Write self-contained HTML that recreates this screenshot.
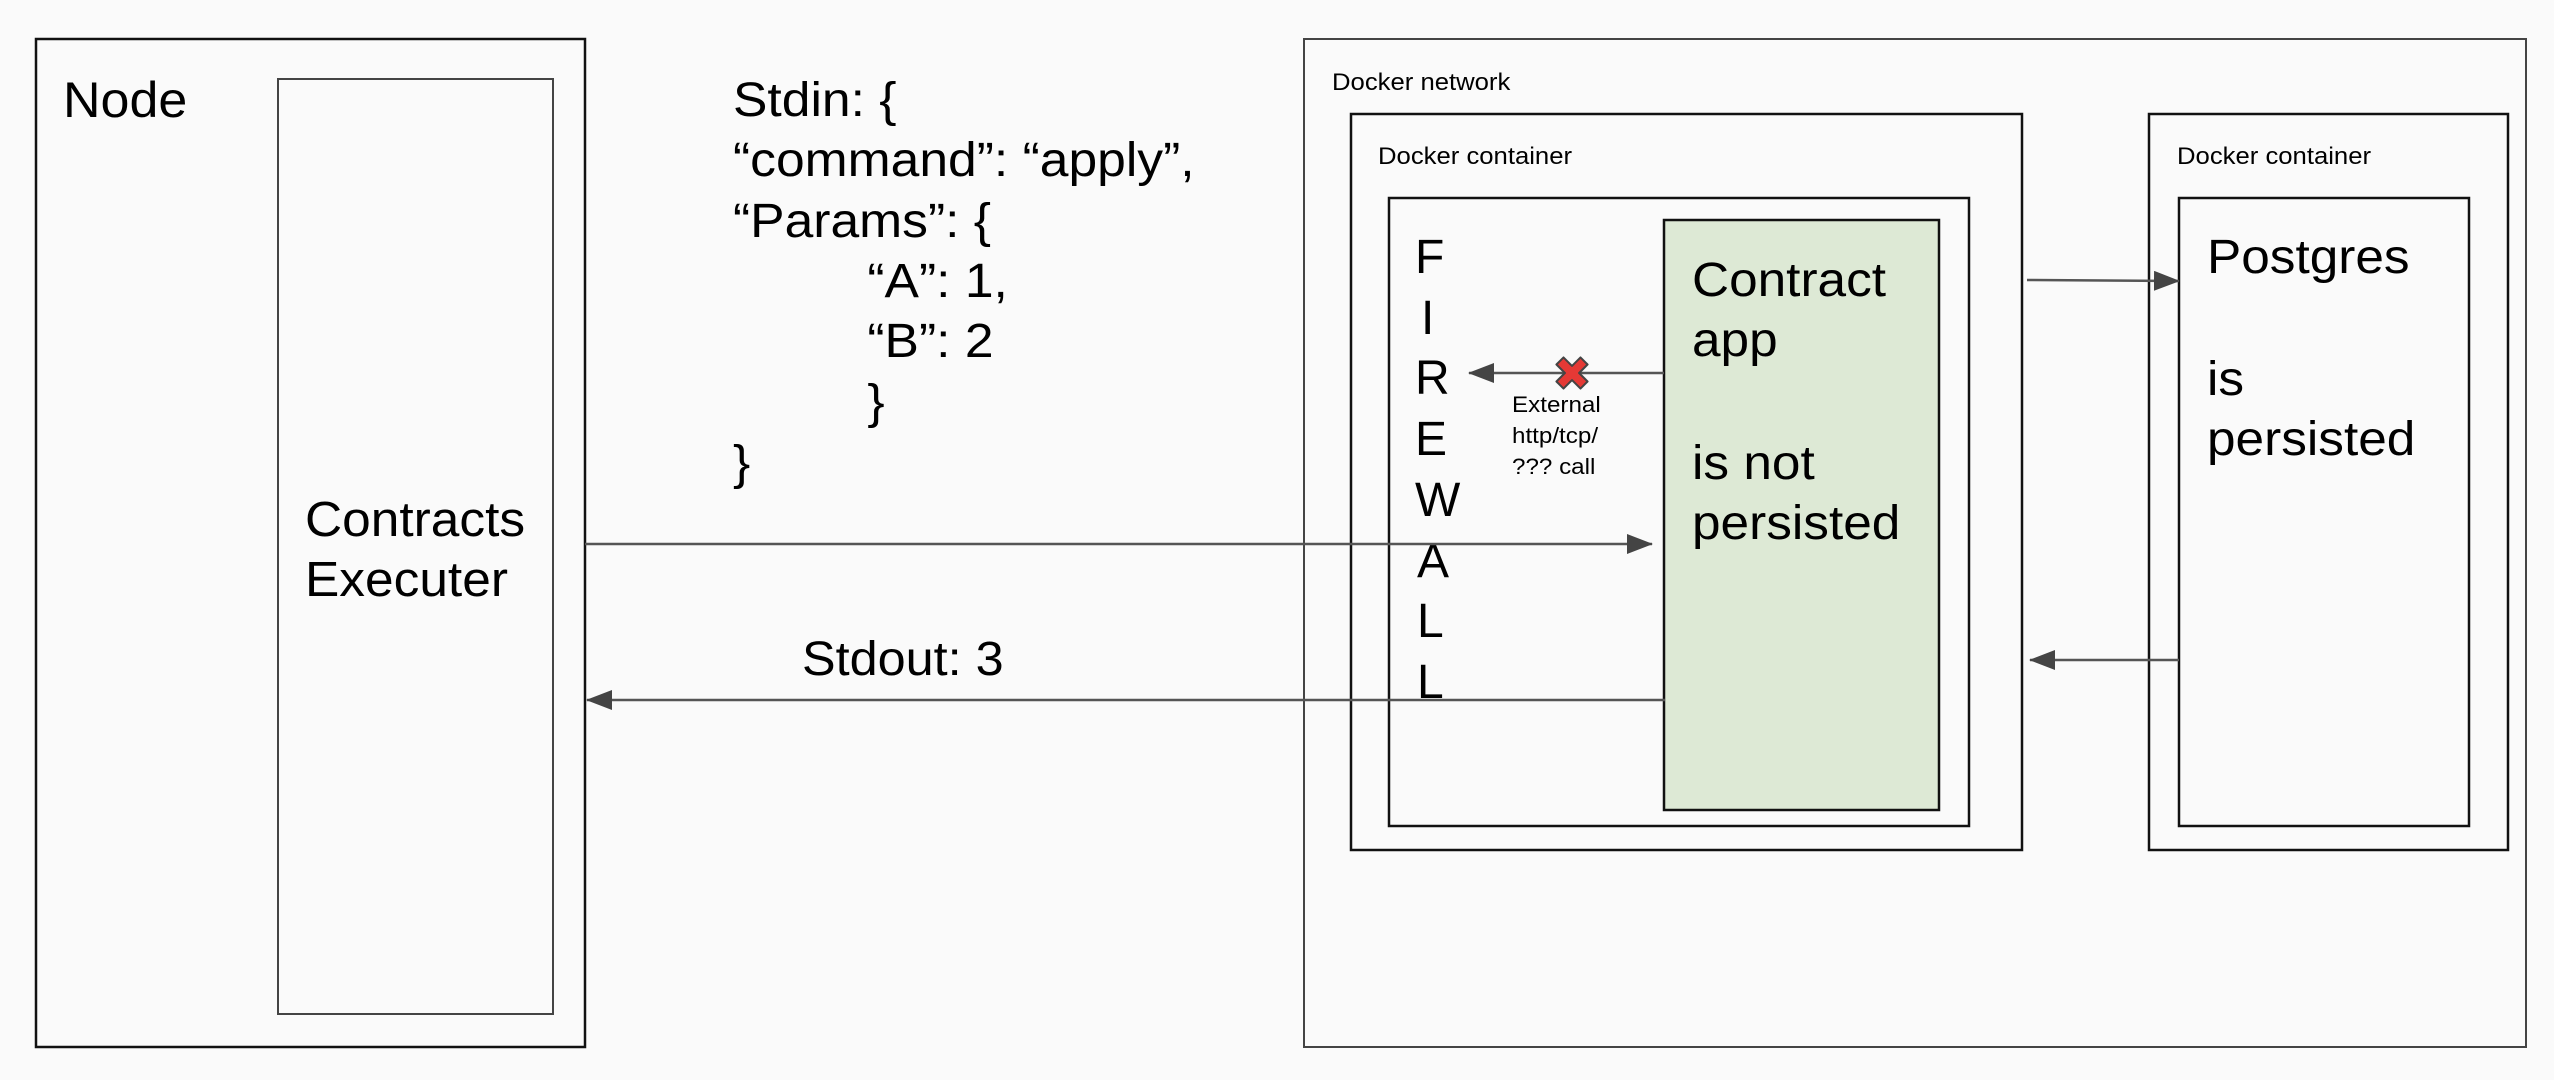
<!DOCTYPE html>
<html><head><meta charset="utf-8"><style>
html,body{margin:0;padding:0;background:#fafafa}
svg{display:block}
text{font-family:"Liberation Sans",Arial,sans-serif;fill:#000}
</style></head><body>
<svg width="2554" height="1080" viewBox="0 0 2554 1080" xmlns="http://www.w3.org/2000/svg">
<rect width="2554" height="1080" fill="#fafafa"/>
<defs>
<marker id="ah" markerWidth="26" markerHeight="20" refX="25" refY="10" orient="auto" markerUnits="userSpaceOnUse">
<path d="M0,0 L26,10 L0,20 Z" fill="#444"/>
</marker>
</defs>
<!-- Node -->
<rect x="36" y="39" width="549" height="1008" fill="none" stroke="#111" stroke-width="2.5"/>
<rect x="278" y="79" width="275" height="935" fill="none" stroke="#444" stroke-width="2"/>
<g transform="translate(63,117) scale(1.04,1)"><text font-size="50">Node</text></g>
<g transform="translate(305,0) scale(1.05,1)" font-size="49">
<text x="0" y="536">Contracts</text>
<text x="0" y="596">Executer</text>
</g>
<!-- Stdin -->
<g transform="translate(733,0) scale(1.075,1)" font-size="48">
<text x="0" y="116">Stdin: {</text>
<text x="0" y="176">“command”: “apply”,</text>
<text x="0" y="237">“Params”: {</text>
<text x="125" y="297">“A”: 1,</text>
<text x="125" y="357">“B”: 2</text>
<text x="125" y="418">}</text>
<text x="0" y="479">}</text>
</g>
<g transform="translate(802,675) scale(1.05,1)"><text font-size="48">Stdout: 3</text></g>
<!-- Docker network -->
<rect x="1304" y="39" width="1222" height="1008" fill="none" stroke="#444" stroke-width="2"/>
<g transform="translate(1332,90) scale(1.07,1)"><text font-size="24">Docker network</text></g>
<rect x="1351" y="114" width="671" height="736" fill="none" stroke="#111" stroke-width="2.5"/>
<g transform="translate(1378,164) scale(1.07,1)"><text font-size="24">Docker container</text></g>
<rect x="1389" y="198" width="580" height="628" fill="none" stroke="#111" stroke-width="2.5"/>
<rect x="1664" y="220" width="275" height="590" fill="#dde9d5" stroke="#111" stroke-width="2.5"/>
<g font-size="48">
<text x="1415" y="273">F</text>
<text x="1421" y="334">I</text>
<text x="1415" y="394">R</text>
<text x="1415" y="455">E</text>
<text x="1415" y="516">W</text>
<text x="1417" y="577">A</text>
<text x="1417" y="637">L</text>
<text x="1417" y="698">L</text>
</g>
<g transform="translate(1692,0) scale(1.07,1)" font-size="48">
<text x="0" y="296">Contract</text>
<text x="0" y="356">app</text>
<text x="0" y="479">is not</text>
<text x="0" y="539">persisted</text>
</g>
<rect x="2149" y="114" width="359" height="736" fill="none" stroke="#111" stroke-width="2.5"/>
<g transform="translate(2177,164) scale(1.07,1)"><text font-size="24">Docker container</text></g>
<rect x="2179" y="198" width="290" height="628" fill="none" stroke="#111" stroke-width="2.5"/>
<g transform="translate(2207,0) scale(1.07,1)" font-size="48">
<text x="0" y="273">Postgres</text>
<text x="0" y="395">is</text>
<text x="0" y="455">persisted</text>
</g>
<!-- arrows -->
<g stroke="#555" stroke-width="2.5" fill="none">
<line x1="585" y1="544" x2="1652" y2="544" marker-end="url(#ah)"/>
<line x1="1665" y1="700" x2="587" y2="700" marker-end="url(#ah)"/>
<line x1="1664" y1="373" x2="1469" y2="373" marker-end="url(#ah)"/>
<line x1="2027" y1="280" x2="2179" y2="281" marker-end="url(#ah)"/>
<line x1="2179" y1="660" x2="2030" y2="660" marker-end="url(#ah)"/>
</g>
<!-- red X -->
<g transform="translate(1572,373) rotate(45)">
<path d="M-5,-17 H5 V-5 H17 V5 H5 V17 H-5 V5 H-17 V-5 H-5 Z" fill="#e53935" stroke="#444" stroke-width="2" stroke-linejoin="round"/>
</g>
<g transform="translate(1512,0) scale(1.1,1)" font-size="22">
<text x="0" y="412">External</text>
<text x="0" y="443">http/tcp/</text>
<text x="0" y="474">??? call</text>
</g>
</svg>
</body></html>
